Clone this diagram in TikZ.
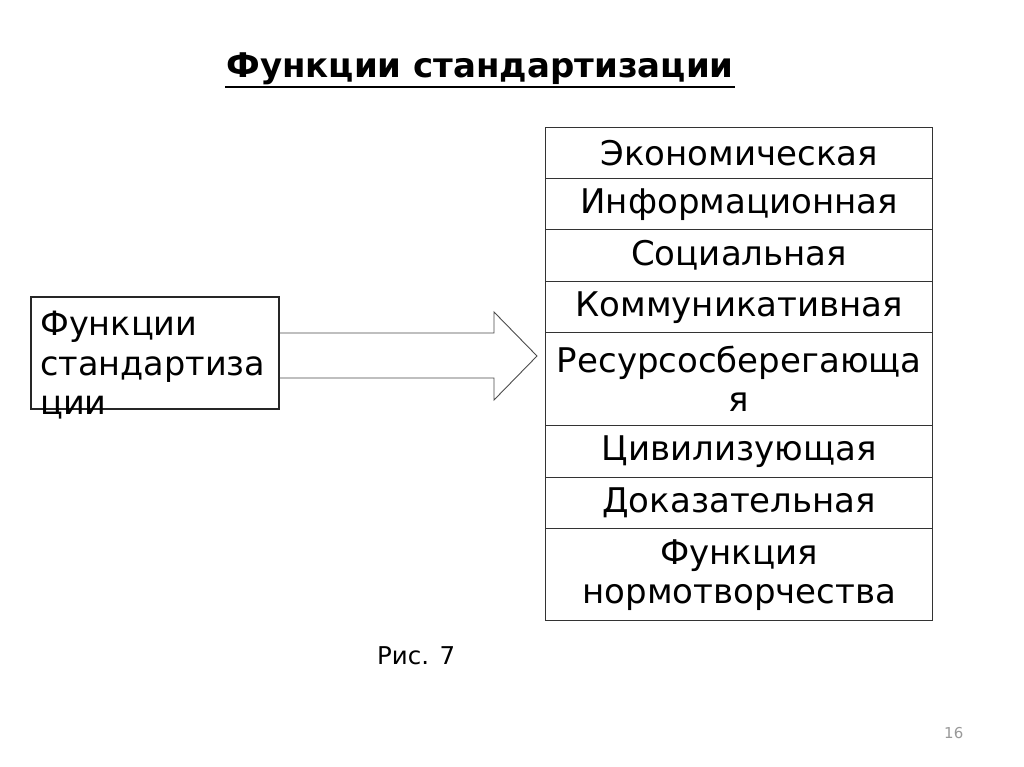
\documentclass[tikz,border=0pt]{standalone}
\usepackage{fontspec}
\setmainfont{DejaVu Sans}
\newfontfamily\titlefont{DejaVu Sans Bold}
\begin{document}
\begin{tikzpicture}[x=1pt,y=-1pt,
  cell/.style={draw=black!80,line width=1.4pt,minimum width=387pt,inner sep=0pt,anchor=north west,align=center,font=\fontsize{34}{39}\selectfont},
  lefttext/.style={anchor=base west,inner sep=0pt,font=\fontsize{33.5}{39}\selectfont},
  shaft/.style={draw=black!70,line width=0.9pt}]
\useasboundingbox (0,0) rectangle (1024,767);
\fill[white] (0,0) rectangle (1024,767);
% title
\node[font=\titlefont\fontsize{34}{40}\selectfont,anchor=base,inner sep=0pt] (title) at (480,78) {Функции стандартизации};
\coordinate (ul1) at (225,87);
\coordinate (ul2) at (735,87);
\draw[line width=2.4pt] (ul1) -- (ul2);
% right column
\node[cell,minimum height=51pt] (r1) at (545,127) {Экономическая};
\node[cell,minimum height=51pt] (r2) at (545,178) {Информационная};
\node[cell,minimum height=52pt] (r3) at (545,229) {Социальная};
\node[cell,minimum height=51pt] (r4) at (545,281) {Коммуникативная};
\node[cell,minimum height=93pt] (r5) at (545,332) {Ресурсосберегающа\\я};
\node[cell,minimum height=52pt] (r6) at (545,425) {Цивилизующая};
\node[cell,minimum height=51pt] (r7) at (545,477) {Доказательная};
\node[cell,minimum height=92pt] (r8) at (545,528) {Функция\\нормотворчества};
% left box
\node[draw=black!85,line width=1.8pt,minimum width=248pt,minimum height=112pt,inner sep=0pt,anchor=north west] (src) at (30,296) {};
\node[lefttext] (l1) at (40,335) {Функции};
\node[lefttext] (l2) at (40,375) {стандартиза};
\node[lefttext] (l3) at (40,414) {ции};
% arrow
\coordinate (a1) at (src.east |- 0,333);
\coordinate (a2) at (src.east |- 0,378);
\coordinate (tip) at (r5.west |- 0,356);
\draw[shaft] (a1) -- (494,333) -- (494,312) -- ([xshift=-8pt]tip) -- (494,400) -- (494,378) -- (a2);
\node[anchor=base west,inner sep=0pt,font=\fontsize{24.5}{28}\selectfont] (fig) at (377,664) {Рис. 7};
\node[anchor=base west,inner sep=0pt,text=black!40,font=\fontsize{15}{17}\selectfont] (pg) at (944,738) {16};
\end{tikzpicture}
\end{document}
